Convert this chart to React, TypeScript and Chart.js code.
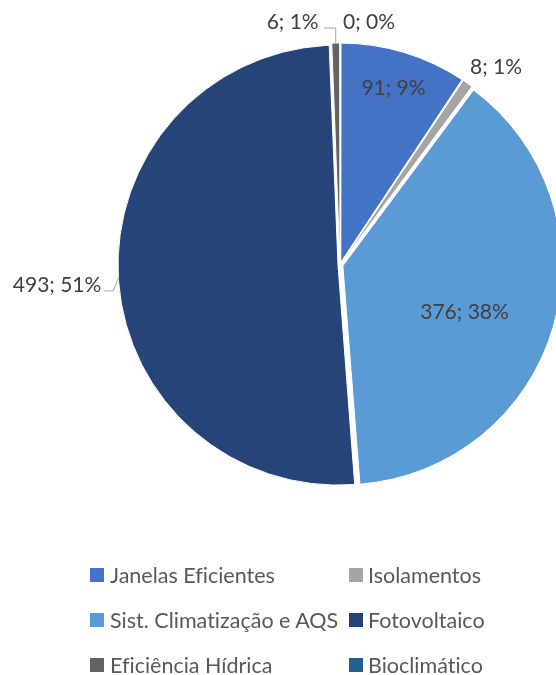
import React, { useEffect, useRef } from "react";
import { Chart, registerables } from "chart.js";
Chart.register(...registerables);

const categories = [
  "Janelas Eficientes",
  "Isolamentos",
  "Sist. Climatização e AQS",
  "Fotovoltaico",
  "Eficiência Hídrica",
  "Bioclimático",
];
const values = [91, 8, 376, 493, 6, 0];
const percentLabels = [9, 1, 38, 51, 1, 0];
const colors = ["#4472C4", "#A5A5A5", "#5B9BD5", "#264478", "#636363", "#255E91"];

const FONT = "Lato, 'Open Sans', sans-serif";
const EXPLODE = 4;
const RADIUS = 218;

type LabelLayout = {
  r: number;
  dx: number;
  dy: number;
  align: CanvasTextAlign;
  leader?: [number, number][];
};

const labelLayout: LabelLayout[] = [
  { r: 0.83, dx: 0, dy: 0, align: "center" },
  { r: 1.13, dx: 12, dy: 7, align: "center" },
  { r: 0.6, dx: -5, dy: 10, align: "center" },
  { r: 1, dx: -17, dy: 7, align: "right", leader: [[-5, 13], [-14, 13]] },
  { r: 1, dx: -17, dy: -21, align: "right", leader: [[0, -15], [-12, -15]] },
  { r: 1, dx: 3, dy: -21, align: "left" },
];

const total = values.reduce((a, b) => a + b, 0);
const offsetFor = (v: number) => {
  const c = (v / total) * 2 * Math.PI;
  const fix = 1 - Math.sin(Math.min(Math.PI, c));
  return (4 * EXPLODE) / (1 + fix);
};

const labelPlugin = {
  id: "pieLabels",
  afterDatasetsDraw(chart: any) {
    const meta = chart.getDatasetMeta(0);
    const ctx = chart.ctx as CanvasRenderingContext2D;
    ctx.save();
    ctx.font = `21px ${FONT}`;
    ctx.textBaseline = "middle";
    meta.data.forEach((arc: any, i: number) => {
      const { x, y, startAngle, endAngle, outerRadius } = arc.getProps(
        ["x", "y", "startAngle", "endAngle", "outerRadius"],
        true
      );
      const mid = (startAngle + endAngle) / 2;
      const cx = x + Math.cos(mid) * EXPLODE;
      const cy = y + Math.sin(mid) * EXPLODE;
      const L = labelLayout[i];
      const ax = cx + Math.cos(mid) * outerRadius * L.r;
      const ay = cy + Math.sin(mid) * outerRadius * L.r;
      if (L.leader) {
        ctx.strokeStyle = "#A6A6A6";
        ctx.lineWidth = 1;
        ctx.beginPath();
        ctx.moveTo(ax, ay);
        L.leader.forEach(([lx, ly]) => ctx.lineTo(ax + lx, ay + ly));
        ctx.stroke();
      }
      ctx.fillStyle = "#404040";
      ctx.textAlign = L.align;
      ctx.fillText(`${values[i]}; ${percentLabels[i]}%`, ax + L.dx, ay + L.dy);
    });
    ctx.restore();
  },
};

export default function App() {
  const ref = useRef<HTMLCanvasElement>(null);
  useEffect(() => {
    if (!ref.current) return;
    const chart = new Chart(ref.current, {
      type: "pie",
      data: {
        labels: categories,
        datasets: [
          {
            data: values,
            backgroundColor: colors,
            borderColor: "#FFFFFF",
            borderWidth: 1,
            offset: (c: any) => offsetFor(values[c.dataIndex]),
            radius: RADIUS,
          } as any,
        ],
      },
      options: {
        responsive: false,
        animation: false,
        layout: { padding: { left: 124, right: 0, top: 0, bottom: 145 } },
        plugins: {
          legend: { display: false },
          tooltip: { enabled: false },
        },
      },
      plugins: [labelPlugin],
    });
    return () => chart.destroy();
  }, []);

  return (
    <div
      style={{
        position: "fixed",
        left: 0,
        top: 0,
        width: 556,
        height: 675,
        overflow: "hidden",
        background: "#fff",
      }}
    >
      <canvas ref={ref} width={556} height={675} style={{ position: "absolute", left: 0, top: 0 }} />
      <div
        style={{
          position: "absolute",
          left: 90,
          top: 552,
          display: "grid",
          gridTemplateColumns: "259px auto",
          gridAutoRows: "45px",
          fontFamily: FONT,
          fontSize: 21.5,
          color: "#595959",
          fontVariantLigatures: "none",
        }}
      >
        {categories.map((c, i) => (
          <div key={c} style={{ display: "flex", alignItems: "center", whiteSpace: "nowrap" }}>
            <span
              style={{
                display: "inline-block",
                width: 14,
                height: 14,
                background: colors[i],
                marginRight: i % 2 === 0 ? 6 : 5,
              }}
            />
            <span>{c}</span>
          </div>
        ))}
      </div>
    </div>
  );
}
